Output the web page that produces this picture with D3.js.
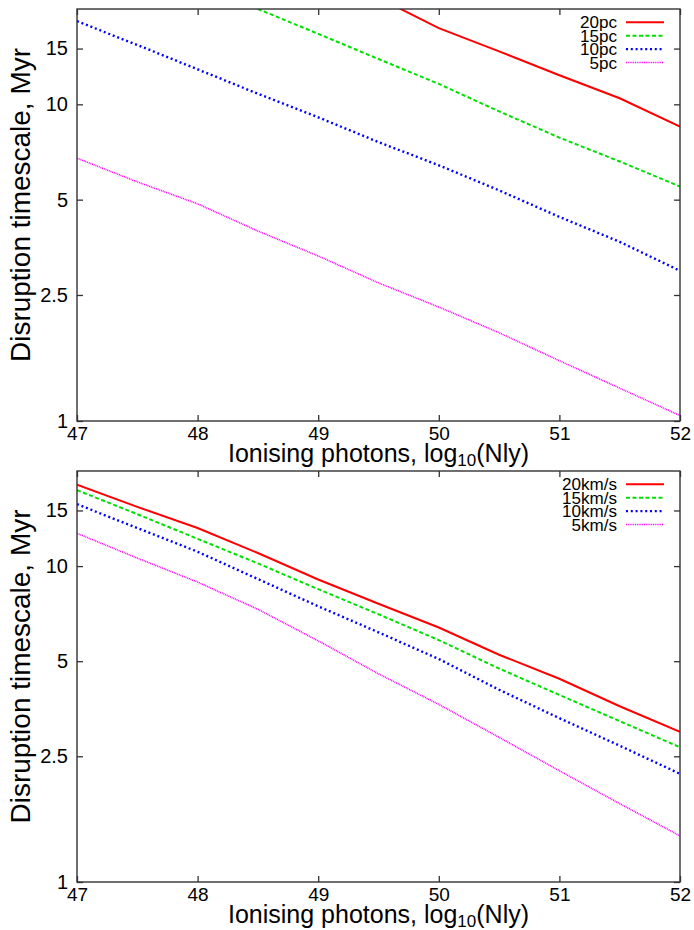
<!DOCTYPE html>
<html>
<head>
<meta charset="utf-8">
<script src="https://cdn.jsdelivr.net/npm/d3@7/dist/d3.min.js"></script>
<style>
  html, body { margin: 0; padding: 0; background: #fff; }
  svg { display: block; }
  text { font-family: "Liberation Sans", Arial, Helvetica, sans-serif; fill: #000; }
</style>
</head>
<body>
<svg id="chart" width="694" height="930"></svg>
<script>
// ---- data ----
const logNly = [47, 47.5, 48, 48.5, 49, 49.5, 50, 50.5, 51, 51.5, 52];

// top panel: cloud radius
const radiusLabels = ["20pc", "15pc", "10pc", "5pc"];
const r20pc = [null, null, null, null, null, 21.7, 17.4, 14.7, 12.35, 10.45, 8.5];
const r15pc = [null, null, 23.9, 20.0, 16.7, 13.9, 11.6, 9.5, 7.85, 6.6, 5.5];
const r10pc = [18.3, 15.4, 12.9, 10.8, 9.1, 7.6, 6.42, 5.35, 4.41, 3.68, 2.98];
const r5pc  = [6.76, 5.69, 4.85, 3.98, 3.32, 2.73, 2.29, 1.90, 1.55, 1.27, 1.04];

// bottom panel: velocity
const velocityLabels = ["20km/s", "15km/s", "10km/s", "5km/s"];
const v20 = [18.1, 15.4, 13.2, 11.0, 9.07, 7.6, 6.39, 5.24, 4.40, 3.60, 2.99];
const v15 = [17.4, 14.6, 12.2, 10.2, 8.45, 7.04, 5.83, 4.74, 3.91, 3.23, 2.67];
const v10 = [15.7, 13.2, 11.1, 9.1, 7.46, 6.17, 5.08, 4.06, 3.30, 2.70, 2.20];
const v5  = [12.7, 10.6, 8.9, 7.3, 5.8, 4.56, 3.65, 2.87, 2.25, 1.77, 1.40];

const xTicks = [47, 48, 49, 50, 51, 52];
const yTicks = [1, 2.5, 5, 10, 15];
const xDomain = [47, 52];
const yDomain = [1, 20];

// ---- styles ----
const seriesStyles = [
  { color: "#ff0000", width: 2,   dash: null },
  { color: "#00e000", width: 2,   dash: "4,2.5" },
  { color: "#0000ff", width: 2.4, dash: "2,2.8" },
  { color: "#ff00ff", width: 1.6, dash: "1,0.8" }
];

const svg = d3.select("#chart");
const left = 77, right = 680;

function fit(sel, targetW) {
  const fs = +sel.attr("font-size");
  const w = sel.node().getComputedTextLength();
  if (w > 0) sel.attr("font-size", fs * targetW / w);
}

function panel(top, bottom, labels, series, idx, legendY, legendW) {
  const g = svg.append("g");
  const x = d3.scaleLinear().domain(xDomain).range([left, right]);
  const y = d3.scaleLog().domain(yDomain).range([bottom, top]);

  const clipId = "clip" + idx;
  g.append("clipPath").attr("id", clipId)
    .append("rect").attr("x", left).attr("y", top)
    .attr("width", right - left).attr("height", bottom - top);

  // lines
  const line = d3.line()
    .defined(d => d[1] != null)
    .x(d => x(d[0])).y(d => y(d[1]));
  series.forEach((vals, i) => {
    const st = seriesStyles[i];
    g.append("path")
      .attr("clip-path", `url(#${clipId})`)
      .attr("d", line(logNly.map((v, k) => [v, vals[k]])))
      .attr("fill", "none")
      .attr("stroke", st.color)
      .attr("stroke-width", st.width)
      .attr("stroke-dasharray", st.dash);
  });

  // axes
  const fmt = d => String(d);
  const axB = g.append("g").attr("transform", `translate(0,${bottom})`)
    .call(d3.axisBottom(x).tickValues(xTicks).tickFormat(fmt).tickSizeInner(-6).tickSizeOuter(0).tickPadding(6));
  const axT = g.append("g").attr("transform", `translate(0,${top})`)
    .call(d3.axisTop(x).tickValues(xTicks).tickFormat("").tickSizeInner(-6).tickSizeOuter(0));
  const axL = g.append("g").attr("transform", `translate(${left},0)`)
    .call(d3.axisLeft(y).tickValues(yTicks).tickFormat(fmt).tickSizeInner(-6).tickSizeOuter(0).tickPadding(9));
  const axR = g.append("g").attr("transform", `translate(${right},0)`)
    .call(d3.axisRight(y).tickValues(yTicks).tickFormat("").tickSizeInner(-6).tickSizeOuter(0));
  [axB, axT, axL, axR].forEach(a => {
    a.select(".domain").remove();
    a.selectAll(".tick line").attr("stroke", "#333").attr("stroke-width", 1.3);
    a.selectAll("text").attr("fill", "#000")
      .attr("font-family", "'Liberation Sans', Arial, sans-serif");
  });
  axL.selectAll("text").attr("font-size", 20);
  axB.selectAll("text").attr("font-size", 19);

  // frame
  g.append("rect").attr("x", left).attr("y", top)
    .attr("width", right - left).attr("height", bottom - top)
    .attr("fill", "none").attr("stroke", "#333").attr("stroke-width", 1.4);

  // axis titles
  const xt = g.append("text")
    .attr("x", (left + right) / 2).attr("y", bottom + 41)
    .attr("text-anchor", "middle").attr("font-size", 25);
  xt.append("tspan").text("Ionising photons, log");
  xt.append("tspan").attr("font-size", 17).attr("dy", 4).text("10");
  xt.append("tspan").attr("dy", -4).text("(Nly)");

  const yt = g.append("text")
    .attr("transform", `translate(30,${(top + bottom) / 2 - 10}) rotate(-90)`)
    .attr("text-anchor", "middle").attr("font-size", 24)
    .text("Disruption timescale, Myr");
  fit(yt, 314);

  // legend
  labels.forEach((lab, i) => {
    const st = seriesStyles[i];
    const cy = legendY + i * 13.4;
    const t = g.append("text").attr("x", 617).attr("y", cy).attr("dy", "0.36em")
      .attr("text-anchor", "end").attr("font-size", 17).attr("class", "leg").text(lab);
    g.append("line").attr("x1", 626).attr("x2", 664).attr("y1", cy).attr("y2", cy)
      .attr("stroke", st.color).attr("stroke-width", st.width)
      .attr("stroke-dasharray", st.dash);
  });
  const first = g.select("text.leg");
  fit(first, legendW);
  g.selectAll("text.leg").attr("font-size", first.attr("font-size"));
}

panel(9, 421, radiusLabels, [r20pc, r15pc, r10pc, r5pc], 0, 22.3, 37);
panel(471, 882, velocityLabels, [v20, v15, v10, v5], 1, 484.3, 55);
</script>
</body>
</html>
